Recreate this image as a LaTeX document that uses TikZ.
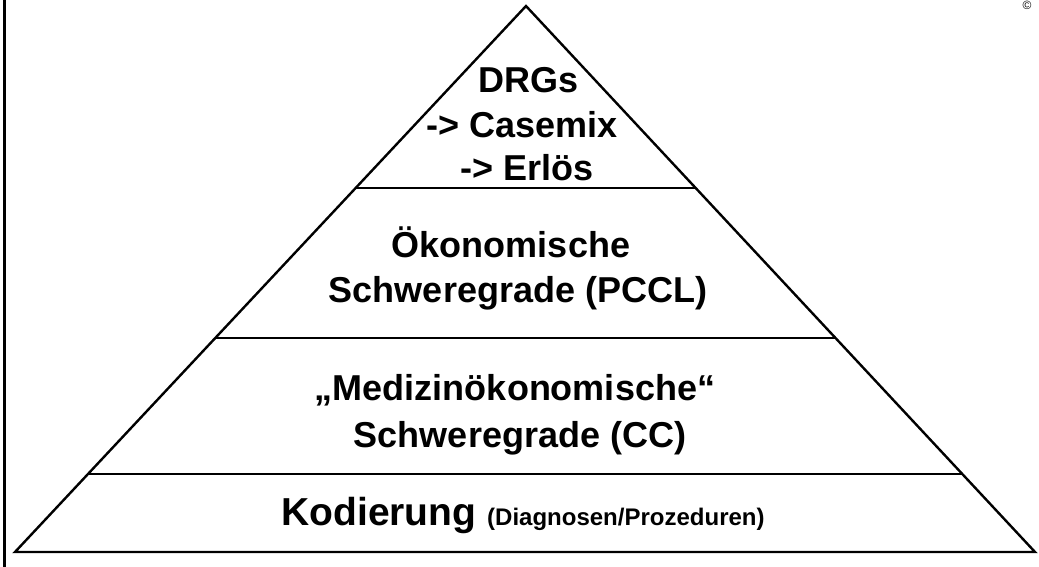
\documentclass[tikz,border=0pt]{standalone}
\usepackage{fontspec}
\setmainfont{Liberation Sans}
\usetikzlibrary{calc}
\begin{document}
\begin{tikzpicture}[x=1pt,y=-1pt,
  lbl/.style={anchor=base,inner sep=0pt,font=\fontsize{36}{45}\selectfont\bfseries},
  big/.style={anchor=base,inner sep=0pt,font=\fontsize{39}{45}\selectfont\bfseries},
  edge/.style={line width=2.4pt,line join=miter},
  sep/.style={line width=1.4pt}]
\useasboundingbox[fill=white] (0,0) rectangle (1039,567);
% left border
\draw[line width=2.6pt] (4.5,0) -- (4.5,567);
% triangle
\coordinate (A) at (526,6);
\coordinate (BL) at (15,552);
\coordinate (BR) at (1035,552);
\draw[edge] (A) -- (BR) -- (BL) -- cycle;
% separators
\coordinate (l1) at ($(BL)!0.6667!(A)$);
\coordinate (r1) at ($(BR)!0.6667!(A)$);
\coordinate (l2) at ($(BL)!0.392!(A)$);
\coordinate (r2) at ($(BR)!0.392!(A)$);
\coordinate (l3) at ($(BL)!0.1429!(A)$);
\coordinate (r3) at ($(BR)!0.1429!(A)$);
\draw[sep] (l1) -- (r1);
\draw[sep] (l2) -- (r2);
\draw[sep] (l3) -- (r3);
% texts
\node[lbl] (t1) at (529,93) {DRGs};
\node[lbl] (t2) at (522,138) {-> Casemix};
\node[lbl] (t3) at (527,180) {-> Erlös};
\node[lbl] (t4) at (511,257) {Ökonomische};
\node[lbl] (t5) at (518,302) {Schweregrade (PCCL)};
\node[lbl] (t6) at (515,400) {„Medizinökonomische“};
\node[lbl] (t7) at (520,447) {Schweregrade (CC)};
\node[anchor=base,inner sep=0pt] (t8) at (523,525) {\fontsize{39}{45}\selectfont\bfseries Kodierung \fontsize{24}{30}\selectfont(Diagnosen/Prozeduren)};
% copyright
\node[inner sep=0pt,font=\fontsize{12}{12}\selectfont] (cr) at (1027,5) {©};
\end{tikzpicture}
\end{document}
